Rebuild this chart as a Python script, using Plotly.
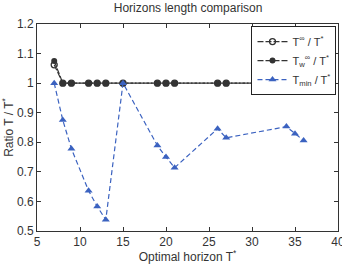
import plotly.graph_objects as go

x_inf = [7, 8, 9, 11, 12, 13, 15, 19, 20, 21, 26, 27, 34, 35, 36]
r_inf = [1.062, 1.0, 1.0, 1.0, 1.0, 1.0, 1.0, 1.0, 1.0, 1.0, 1.0, 1.0, 1.0, 1.0, 1.0]
r_inf_w = [1.075, 1.0, 1.0, 1.0, 1.0, 1.0, 1.0, 1.0, 1.0, 1.0, 1.0, 1.0, 1.0, 1.0, 1.0]
r_min = [1.0, 0.875, 0.778, 0.636, 0.583, 0.538, 1.0, 0.789, 0.75, 0.714, 0.846, 0.815, 0.853, 0.829, 0.806]

x_ticks = [5, 10, 15, 20, 25, 30, 35, 40]
y_ticks = [0.5, 0.6, 0.7, 0.8, 0.9, 1.0, 1.1, 1.2]
y_labels = ["0.5", "0.6", "0.7", "0.8", "0.9", "1", "1.1", "1.2"]

font = "Liberation Sans, Arial, sans-serif"
blue = "#3b62c0"
dark = "#333333"

fig = go.Figure()
fig.add_trace(go.Scatter(
    x=x_inf, y=r_inf, mode="lines+markers",
    name="T<sup>∞</sup> / T<sup>*</sup>",
    line=dict(color=dark, width=1.2, dash="6px,2px"),
    marker=dict(symbol="circle-open", size=6, color=dark, line=dict(width=1.3)),
))
fig.add_trace(go.Scatter(
    x=x_inf, y=r_inf_w, mode="lines+markers",
    name="T<sub>w</sub><sup>∞</sup> / T<sup>*</sup>",
    line=dict(color=dark, width=1.2, dash="6px,2px"),
    marker=dict(symbol="circle", size=6, color=dark),
))
fig.add_trace(go.Scatter(
    x=x_inf, y=r_min, mode="lines+markers",
    name="T<sub>min</sub> / T<sup>*</sup>",
    line=dict(color=blue, width=1.2, dash="5px,3px"),
    marker=dict(symbol="triangle-up", size=7, color=blue),
))

axis_common = dict(
    showgrid=False, zeroline=False, showline=True, linecolor=dark, linewidth=1,
    mirror="ticks", ticks="inside", ticklen=4, tickcolor=dark,
    tickfont=dict(family=font, size=12, color=dark),
    ticklabeloverflow="allow",
)
fig.update_xaxes(range=[5, 40], tickvals=x_ticks, automargin=False,
                 title=dict(text="Optimal horizon T<sup>*</sup>", font=dict(family=font, size=12, color=dark), standoff=3),
                 **axis_common)
fig.update_yaxes(range=[0.5, 1.2], tickvals=y_ticks, ticktext=y_labels, automargin=False,
                 title=dict(text="Ratio T / T<sup>*</sup>", font=dict(family=font, size=12, color=dark), standoff=4),
                 **axis_common)

fig.update_layout(
    width=342, height=264,
    margin=dict(l=37, r=4, t=24, b=33),
    paper_bgcolor="white", plot_bgcolor="white",
    title=dict(text="Horizons length comparison", x=0.55, xanchor="center", y=0.985, yanchor="top",
               font=dict(family=font, size=12, color=dark)),
    legend=dict(x=0.995, xanchor="right", y=0.99, yanchor="top", bordercolor="#222222", borderwidth=1,
                bgcolor="white", font=dict(family=font, size=11, color=dark),
                tracegroupgap=0, itemwidth=30),
    showlegend=True,
)

fig.write_html("out.html")
